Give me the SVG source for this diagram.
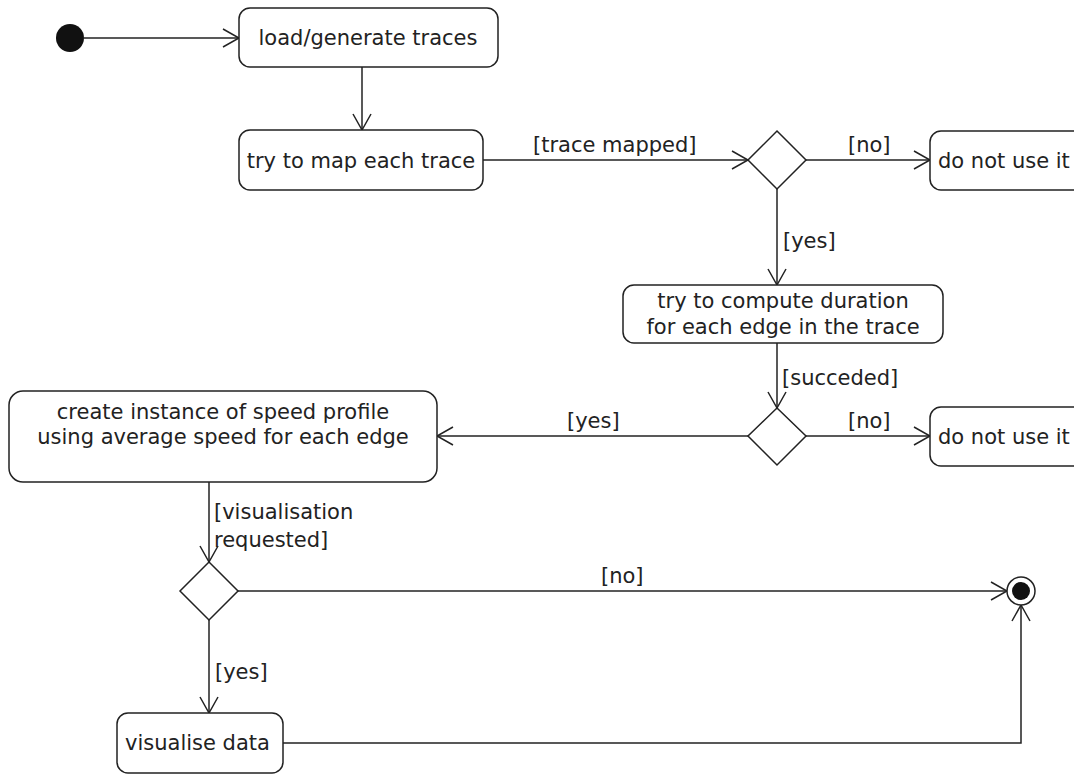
<svg xmlns="http://www.w3.org/2000/svg" width="1074" height="774" viewBox="0 0 1074 774">
<style>
.n{fill:#fff;stroke:#222;stroke-width:1.5}
.t{font-family:"DejaVu Sans",sans-serif;font-size:21px;fill:#222}
.c{text-anchor:middle}
.e{fill:none;stroke:#222;stroke-width:1.5}
</style>
<defs>
<marker id="a" markerUnits="userSpaceOnUse" markerWidth="20" markerHeight="22" refX="17" refY="10" orient="auto">
<path d="M1,1 L17,10 L1,19" fill="none" stroke="#222" stroke-width="1.5"/>
</marker>
</defs>
<rect width="1074" height="774" fill="#fff"/>
<g id="connectors">
<path class="e" d="M84,38 H239" marker-end="url(#a)"/>
<path class="e" d="M362,67 V130" marker-end="url(#a)"/>
<path class="e" d="M483,160 H748" marker-end="url(#a)"/>
<text class="t" x="533" y="152">[trace mapped]</text>
<path class="e" d="M806,160 H930" marker-end="url(#a)"/>
<text class="t" x="848" y="152">[no]</text>
<path class="e" d="M777,189 V285" marker-end="url(#a)"/>
<text class="t" x="783" y="248">[yes]</text>
<path class="e" d="M777,343 V408" marker-end="url(#a)"/>
<text class="t" x="782" y="385">[succeded]</text>
<path class="e" d="M806,436 H930" marker-end="url(#a)"/>
<text class="t" x="848" y="428">[no]</text>
<path class="e" d="M748,436 H437" marker-end="url(#a)"/>
<text class="t" x="567" y="428">[yes]</text>
<path class="e" d="M209,482 V562" marker-end="url(#a)"/>
<text class="t" x="214" y="519">[visualisation</text>
<text class="t" x="214" y="547">requested]</text>
<path class="e" d="M238,591 H1007" marker-end="url(#a)"/>
<text class="t" x="601" y="583">[no]</text>
<path class="e" d="M209,620 V713" marker-end="url(#a)"/>
<text class="t" x="215" y="679">[yes]</text>
<path class="e" d="M283,743 H1021 V605" marker-end="url(#a)"/>
</g>
<g id="start"><circle cx="70" cy="38" r="14" fill="#111"/></g>
<g id="load"><rect class="n" x="239" y="8" width="259" height="59" rx="11"/><text class="t c" x="368" y="45">load/generate traces</text></g>
<g id="map"><rect class="n" x="239" y="130" width="244" height="60" rx="11"/><text class="t c" x="361" y="168">try to map each trace</text></g>
<g id="d1"><path class="n" d="M777,131 L806,160 L777,189 L748,160 Z"/></g>
<g id="skip1"><rect class="n" x="930" y="131" width="160" height="59" rx="11"/><text class="t" x="938" y="168">do not use it</text></g>
<g id="compute"><rect class="n" x="623" y="285" width="320" height="58" rx="11"/><text class="t c" x="783" y="308">try to compute duration</text><text class="t c" x="783" y="334">for each edge in the trace</text></g>
<g id="d2"><path class="n" d="M777,408 L806,436 L777,465 L748,436 Z"/></g>
<g id="skip2"><rect class="n" x="930" y="407" width="160" height="59" rx="11"/><text class="t" x="938" y="444">do not use it</text></g>
<g id="create"><rect class="n" x="9" y="391" width="428" height="91" rx="14"/><text class="t c" x="223" y="419">create instance of speed profile</text><text class="t c" x="223" y="444">using average speed for each edge</text></g>
<g id="d3"><path class="n" d="M209,562 L238,591 L209,620 L180,591 Z"/></g>
<g id="final"><circle cx="1021" cy="591" r="14" fill="#fff" stroke="#222" stroke-width="1.5"/><circle cx="1021" cy="591" r="9" fill="#111"/></g>
<g id="visualise"><rect class="n" x="117" y="713" width="166" height="60" rx="11"/><text class="t" x="125" y="750">visualise data</text></g>
</svg>
